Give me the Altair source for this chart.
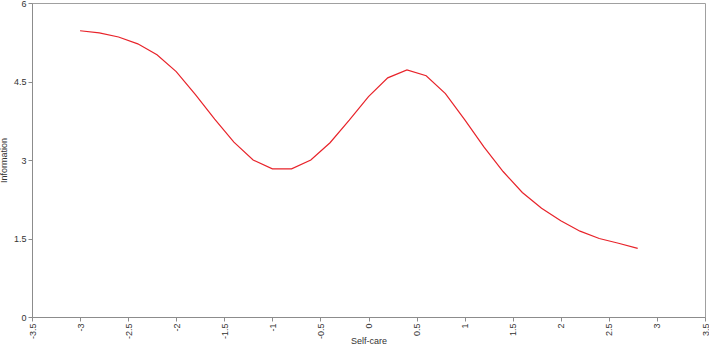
import altair as alt
import pandas as pd

self_care = [-3.0, -2.8, -2.6, -2.4, -2.2, -2.0, -1.8, -1.6, -1.4, -1.2, -1.0,
             -0.8, -0.6, -0.4, -0.2, 0.0, 0.2, 0.4, 0.6, 0.8, 1.0, 1.2, 1.4,
             1.6, 1.8, 2.0, 2.2, 2.4, 2.6, 2.8]
information = [5.47, 5.43, 5.35, 5.22, 5.01, 4.69, 4.25, 3.78, 3.34, 3.0, 2.83,
               2.83, 3.0, 3.33, 3.76, 4.21, 4.57, 4.72, 4.61, 4.27, 3.77, 3.25,
               2.78, 2.38, 2.08, 1.84, 1.64, 1.50, 1.41, 1.31]
x_ticks = [-3.5, -3, -2.5, -2, -1.5, -1, -0.5, 0, 0.5, 1, 1.5, 2, 2.5, 3, 3.5]
y_ticks = [0, 1.5, 3, 4.5, 6]

df = pd.DataFrame({"Self-care": self_care, "Information": information})

chart = alt.Chart(df).mark_line(color="#e8232a", strokeWidth=1.2).encode(
    x=alt.X("Self-care:Q",
            scale=alt.Scale(domain=[-3.5, 3.5], nice=False, zero=False),
            axis=alt.Axis(values=x_ticks, labelAngle=270, grid=False,
                          title="Self-care", titleY=19, titleBaseline="top",
                          labelExpr="datum.value")),
    y=alt.Y("Information:Q",
            scale=alt.Scale(domain=[0, 6], nice=False),
            axis=alt.Axis(values=y_ticks, grid=False, title="Information",
                          titleX=-24, titleBaseline="bottom",
                          labelExpr="datum.value")),
).properties(
    width=673, height=314,
    autosize=alt.AutoSizeParams(type="none"),
    padding={"left": 32, "top": 3, "right": 4, "bottom": 32},
).configure_view(
    stroke="#a0a0a0", strokeWidth=1
).configure_axis(
    domainColor="#8c8c8c", tickColor="#8c8c8c", tickSize=4,
    labelFont="Liberation Sans", labelFontSize=9, labelColor="#333333",
    titleFont="Liberation Sans", titleFontSize=9, titleFontWeight="normal",
    titleColor="#333333", labelPadding=2
)

chart.save("out.html", embed_options={"renderer": "svg", "actions": False})
